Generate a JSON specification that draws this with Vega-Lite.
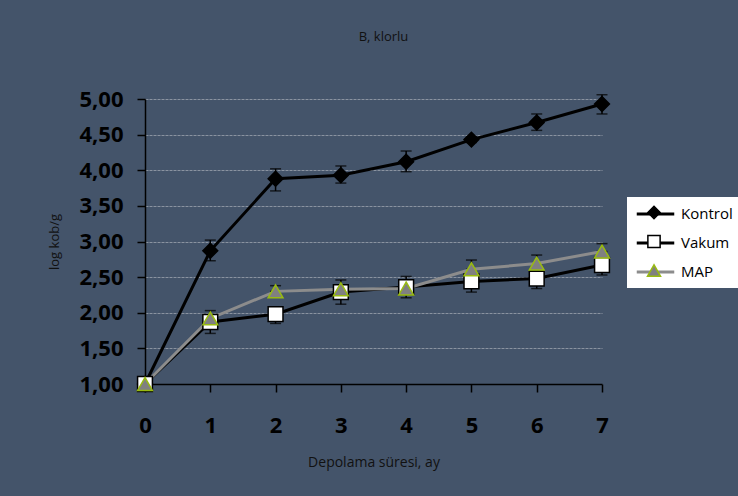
{
  "$schema": "https://vega.github.io/schema/vega-lite/v6.json",
  "width": 457,
  "height": 285,
  "autosize": {"type": "none"},
  "padding": {"left": 145, "top": 99, "right": 136, "bottom": 112},
  "background": "#44546A",
  "title": {
    "text": "B, klorlu",
    "font": "Open Sans",
    "fontSize": 13,
    "fontWeight": "normal",
    "color": "#111111",
    "anchor": "middle",
    "offset": 44,
    "dx": 10
  },
  "data": {
    "values": [
      {"ay": 0, "grup": "Kontrol", "deger": 1.00, "ust": 0, "alt": 0},
      {"ay": 1, "grup": "Kontrol", "deger": 2.87, "ust": 0.15, "alt": -0.14},
      {"ay": 2, "grup": "Kontrol", "deger": 3.88, "ust": 0.14, "alt": -0.17},
      {"ay": 3, "grup": "Kontrol", "deger": 3.93, "ust": 0.13, "alt": -0.11},
      {"ay": 4, "grup": "Kontrol", "deger": 4.12, "ust": 0.15, "alt": -0.14},
      {"ay": 5, "grup": "Kontrol", "deger": 4.43, "ust": 0.04, "alt": -0.04},
      {"ay": 6, "grup": "Kontrol", "deger": 4.67, "ust": 0.12, "alt": -0.11},
      {"ay": 7, "grup": "Kontrol", "deger": 4.93, "ust": 0.13, "alt": -0.14},
      {"ay": 0, "grup": "Vakum", "deger": 1.00, "ust": 0, "alt": 0},
      {"ay": 1, "grup": "Vakum", "deger": 1.87, "ust": 0, "alt": -0.16},
      {"ay": 2, "grup": "Vakum", "deger": 1.98, "ust": 0, "alt": -0.13},
      {"ay": 3, "grup": "Vakum", "deger": 2.29, "ust": 0, "alt": -0.17},
      {"ay": 4, "grup": "Vakum", "deger": 2.36, "ust": 0, "alt": -0.15},
      {"ay": 5, "grup": "Vakum", "deger": 2.44, "ust": 0, "alt": -0.15},
      {"ay": 6, "grup": "Vakum", "deger": 2.48, "ust": 0, "alt": -0.14},
      {"ay": 7, "grup": "Vakum", "deger": 2.67, "ust": 0, "alt": -0.14},
      {"ay": 0, "grup": "MAP", "deger": 1.00, "ust": 0, "alt": 0},
      {"ay": 1, "grup": "MAP", "deger": 1.92, "ust": 0.11, "alt": 0},
      {"ay": 2, "grup": "MAP", "deger": 2.30, "ust": 0.08, "alt": 0},
      {"ay": 3, "grup": "MAP", "deger": 2.33, "ust": 0.13, "alt": 0},
      {"ay": 4, "grup": "MAP", "deger": 2.34, "ust": 0.17, "alt": 0},
      {"ay": 5, "grup": "MAP", "deger": 2.61, "ust": 0.13, "alt": 0},
      {"ay": 6, "grup": "MAP", "deger": 2.69, "ust": 0.12, "alt": 0},
      {"ay": 7, "grup": "MAP", "deger": 2.86, "ust": 0.11, "alt": 0}
    ]
  },
  "encoding": {
    "x": {
      "field": "ay",
      "type": "quantitative",
      "scale": {"domain": [0, 7], "nice": false, "zero": false},
      "axis": {
        "values": [0, 1, 2, 3, 4, 5, 6, 7],
        "format": "d",
        "grid": false,
        "labelFlush": false,
        "title": "Depolama süresi, ay",
        "labelPadding": 23,
        "titlePadding": 19
      }
    },
    "y": {
      "field": "deger",
      "type": "quantitative",
      "scale": {"domain": [1, 5], "nice": false, "zero": false},
      "axis": {
        "values": [1, 1.5, 2, 2.5, 3, 3.5, 4, 4.5, 5],
        "labelExpr": "replace(format(datum.value, '.2f'), '.', ',')",
        "labelFlush": false,
        "grid": true,
        "title": "log kob/g",
        "labelPadding": 14,
        "titlePadding": 17
      }
    }
  },
  "layer": [
    {
      "transform": [{"filter": "datum.ay > 0"}],
      "mark": {
        "type": "errorbar",
        "ticks": {"size": 11, "color": "black", "thickness": 1.5},
        "rule": {"color": "black", "strokeWidth": 1.5}
      },
      "encoding": {
        "yError": {"field": "ust"},
        "yError2": {"field": "alt"}
      }
    },
    {
      "mark": {"type": "line", "strokeWidth": 3},
      "encoding": {
        "color": {
          "field": "grup",
          "type": "nominal",
          "scale": {"domain": ["Kontrol", "Vakum", "MAP"], "range": ["#000000", "#000000", "#8c8c8c"]},
          "legend": {
            "orient": "none",
            "legendX": 482,
            "legendY": 98,
            "title": null,
            "fillColor": "white",
            "padding": 8,
            "symbolType": "M-2.5,0H2.5",
            "symbolSize": 225,
            "symbolStrokeWidth": 3,
            "symbolOffset": 11.5,
            "labelFont": "Open Sans",
            "labelFontSize": 15,
            "labelColor": "black",
            "labelOffset": 16.5,
            "rowPadding": 12
          }
        }
      }
    },
    {
      "mark": {"type": "point", "size": 220, "strokeWidth": 1.5, "opacity": 1},
      "encoding": {
        "fill": {
          "field": "grup",
          "type": "nominal",
          "sort": ["Kontrol", "Vakum", "MAP"],
          "scale": {"range": ["#000000", "#ffffff", "#808080"]},
          "legend": {
            "orient": "none",
            "legendX": 482,
            "legendY": 98,
            "values": ["Kontrol"],
            "title": null,
            "padding": 8,
            "symbolType": "diamond",
            "symbolSize": 150,
            "symbolOffset": 11.5,
            "symbolStrokeColor": "#000000",
            "symbolStrokeWidth": 1.5,
            "labelExpr": "''",
            "labelFontSize": 15
          }
        },
        "stroke": {
          "field": "grup",
          "type": "nominal",
          "sort": "descending",
          "scale": {"range": ["#000000", "#99bb11", "#000000"]},
          "legend": {
            "orient": "none",
            "legendX": 482,
            "legendY": 127,
            "values": ["Vakum"],
            "title": null,
            "padding": 8,
            "symbolType": "square",
            "symbolSize": 150,
            "symbolOffset": 11.5,
            "symbolFillColor": "#ffffff",
            "symbolStrokeWidth": 1.5,
            "labelExpr": "''",
            "labelFontSize": 15
          }
        },
        "shape": {
          "field": "grup",
          "type": "nominal",
          "scale": {"range": ["diamond", "triangle-up", "square"]},
          "legend": {
            "orient": "none",
            "legendX": 482,
            "legendY": 156,
            "values": ["MAP"],
            "title": null,
            "padding": 8,
            "symbolSize": 170,
            "symbolOffset": 11.5,
            "symbolFillColor": "#808080",
            "symbolStrokeColor": "#99bb11",
            "symbolStrokeWidth": 1.5,
            "labelExpr": "''",
            "labelFontSize": 15
          }
        }
      }
    }
  ],
  "config": {
    "view": {"stroke": null},
    "axis": {
      "domainColor": "#000000",
      "domainWidth": 1.5,
      "tickColor": "#000000",
      "tickWidth": 1.5,
      "tickSize": 8,
      "labelFont": "Open Sans",
      "labelFontWeight": "bold",
      "labelFontSize": 22,
      "labelColor": "#000000",
      "titleFont": "Open Sans",
      "titleFontWeight": "normal",
      "titleFontSize": 13,
      "titleColor": "#111111",
      "gridColor": "#8a93a0",
      "gridWidth": 1,
      "gridDash": [3, 1]
    },
    "axisX": {"titleFontSize": 14}
  }
}
